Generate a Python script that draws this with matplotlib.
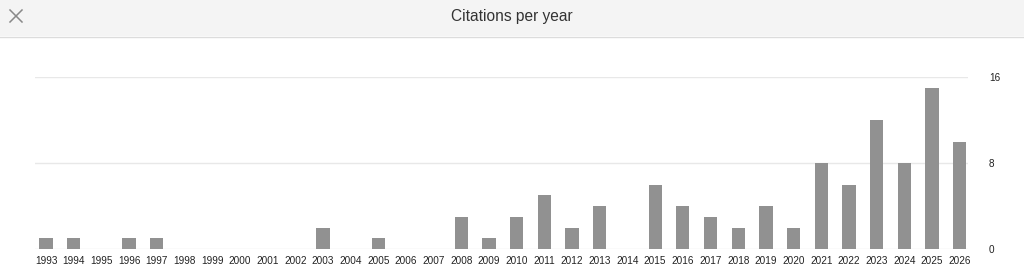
import matplotlib
matplotlib.use('Agg')
import matplotlib.pyplot as plt
from matplotlib.patches import Rectangle

plt.rcParams['font.family'] = ['Liberation Sans', 'DejaVu Sans']

years = list(range(1993, 2027))
citations = [1, 1, 0, 1, 1, 0, 0, 0, 0, 0, 2, 0, 1, 0, 0, 3, 1, 3, 5, 2,
             4, 0, 6, 4, 3, 2, 4, 2, 8, 6, 12, 8, 15, 10]
yticks = [0, 8, 16]

W, H = 1024, 277
fig = plt.figure(figsize=(W / 100, H / 100), dpi=100)
fig.patch.set_facecolor('white')

# header band
fig.patches.append(Rectangle((0, 1 - 36 / H), 1, 36 / H, transform=fig.transFigure,
                             facecolor='#f4f4f4', edgecolor='none', zorder=0))
fig.lines.append(plt.Line2D([0, 1], [1 - 36.5 / H, 1 - 36.5 / H], transform=fig.transFigure,
                            color='#dcdcdc', lw=1))
fig.text(0.5, 1 - 16 / H, 'Citations per year', ha='center', va='center',
         fontsize=11.2, color='#333333')
# close cross drawn as two thin lines
cx, cy, r = 16, 16, 6
fig.lines.append(plt.Line2D([(cx - r) / W, (cx + r) / W], [1 - (cy - r) / H, 1 - (cy + r) / H],
                            transform=fig.transFigure, color='#888888', lw=1.1))
fig.lines.append(plt.Line2D([(cx - r) / W, (cx + r) / W], [1 - (cy + r) / H, 1 - (cy - r) / H],
                            transform=fig.transFigure, color='#888888', lw=1.1))

ax = fig.add_axes([35 / W, 28 / H, (968 - 35) / W, (249 - 77) / H])
idx = list(range(len(years)))
ax.bar(idx, citations, width=0.48, color='#919191', zorder=3)
ax.set_xlim(-0.4, len(years) - 0.7)
ax.set_ylim(0, 16)
ax.set_yticks(yticks)
ax.set_xticks(idx)
ax.set_xticklabels([str(y) for y in years], fontsize=7.2, color='#222222')
ax.yaxis.tick_right()
ax.tick_params(axis='y', length=0, pad=15, labelsize=7.2, labelcolor='#222222')
ax.tick_params(axis='x', length=0, pad=5)
ax.grid(axis='y', color='#e8e8e8', lw=1, zorder=0)
for s in ax.spines.values():
    s.set_visible(False)

fig.savefig('out.png', dpi=100)
